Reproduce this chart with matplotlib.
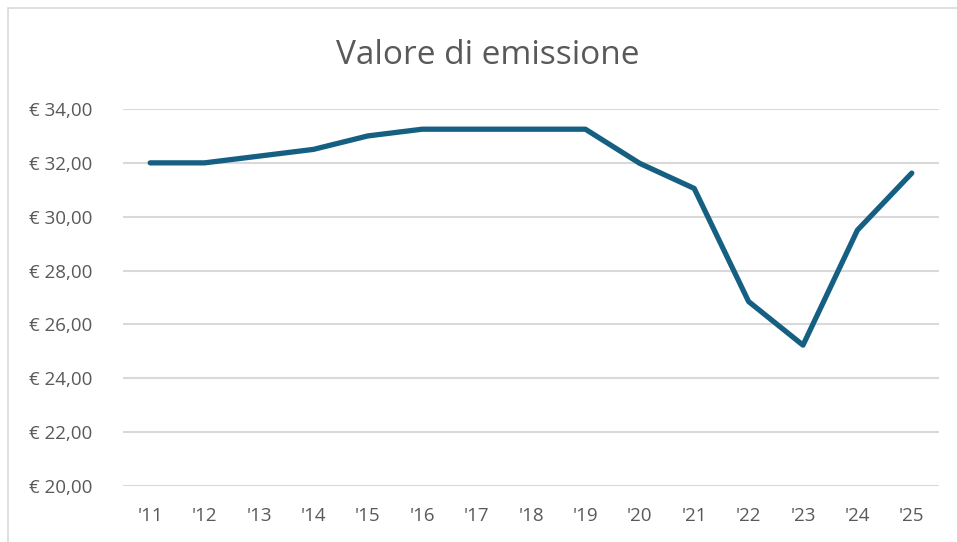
import matplotlib.pyplot as plt
from matplotlib.patches import Rectangle

years = ["'11", "'12", "'13", "'14", "'15", "'16", "'17", "'18", "'19",
         "'20", "'21", "'22", "'23", "'24", "'25"]
valori = [32.0, 32.0, 32.25, 32.5, 33.0, 33.25, 33.25, 33.25, 33.25,
          31.98, 31.05, 26.85, 25.23, 29.5, 31.62]
y_ticks = [20, 22, 24, 26, 28, 30, 32, 34]

plt.rcParams['font.family'] = ['Open Sans', 'DejaVu Sans']
grigio = '#595959'

fig = plt.figure(figsize=(9.57, 5.42), dpi=100)
# chart border
fig.patches.append(Rectangle((8/957, -0.1), 1.1, 1 - 8/542 + 0.1, transform=fig.transFigure,
                             fill=False, edgecolor='#D9D9D9', linewidth=1.2))

ax = fig.add_axes([123/957, 1 - 486/542, 816/957, 377/542])
x = range(len(years))
ax.plot(x, valori, color='#156082', linewidth=3.8, solid_capstyle='round', solid_joinstyle='round', zorder=3)

ax.set_xlim(-0.5, len(years) - 0.5)
ax.set_ylim(20, 34)
ax.set_yticks(y_ticks)
ax.set_yticklabels(['€ %d,00' % v for v in y_ticks])
ax.set_xticks(list(x))
ax.set_xticklabels(years)
ax.grid(axis='y', color='#D9D9D9', linewidth=1.5)
ax.set_axisbelow(True)
for s in ax.spines.values():
    s.set_visible(False)
ax.tick_params(axis='both', length=0, labelsize=13.5, colors=grigio)
ax.tick_params(axis='y', pad=22)
ax.tick_params(axis='x', pad=15)

fig.text(488/957, 1 - 56/542, 'Valore di emissione', ha='center', va='center',
         fontsize=24, color=grigio)

fig.savefig('out.png', dpi=100)
